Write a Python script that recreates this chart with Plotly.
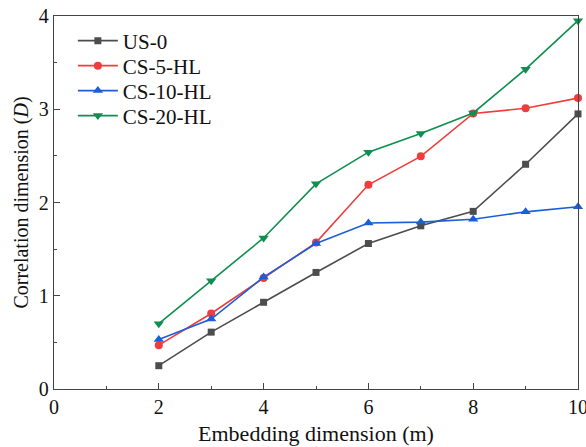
import plotly.graph_objects as go

m = [2, 3, 4, 5, 6, 7, 8, 9, 10]
us0 = [0.25, 0.61, 0.93, 1.25, 1.56, 1.75, 1.905, 2.41, 2.95]
cs5 = [0.47, 0.81, 1.19, 1.57, 2.19, 2.495, 2.955, 3.01, 3.12]
cs10 = [0.53, 0.75, 1.20, 1.56, 1.78, 1.79, 1.82, 1.90, 1.955]
cs20 = [0.70, 1.16, 1.62, 2.20, 2.54, 2.74, 2.96, 3.43, 3.95]

names = ["US-0", "CS-5-HL", "CS-10-HL", "CS-20-HL"]
colors = ["#4d4d4d", "#f03c3c", "#1a5fd6", "#0e8f4f"]
symbols = ["square", "circle", "triangle-up", "triangle-down"]
sizes = [7, 8, 9, 9]
series = [us0, cs5, cs10, cs20]
legend_ids = ["legend", "legend2", "legend3", "legend4"]
legend_y = [0.933, 0.866, 0.799, 0.732]

FONT = "Liberation Serif, Times New Roman, serif"

fig = go.Figure()
for name, ys, c, s, sz, lg in zip(names, series, colors, symbols, sizes, legend_ids):
    fig.add_trace(go.Scatter(
        x=m, y=ys, name=name, mode="lines+markers",
        line=dict(color=c, width=1.6),
        marker=dict(symbol=s, size=sz, color=c),
        cliponaxis=False, legend=lg,
    ))

axis_common = dict(
    showgrid=False, zeroline=False, showline=True, mirror=True,
    linecolor="#444444", linewidth=1.3,
    ticks="inside", ticklen=6, tickwidth=1.2, tickcolor="#444444",
    tickfont=dict(family=FONT, size=20, color="#111111"),
    ticklabeloverflow="allow", automargin=False,
)

fig.update_xaxes(
    range=[0, 10], dtick=2, tick0=0,
    minor=dict(ticks="inside", ticklen=3, tickwidth=1.2, tickcolor="#444444", dtick=1),
    title=dict(text="Embedding dimension (m)", font=dict(family=FONT, size=22, color="#111111"), standoff=8),
    **axis_common,
)
fig.update_yaxes(
    range=[0, 4], dtick=1, tick0=0,
    minor=dict(ticks="inside", ticklen=3, tickwidth=1.2, tickcolor="#444444", dtick=0.5),
    title=dict(text="Correlation dimension (<i>D</i>)", font=dict(family=FONT, size=20, color="#111111"), standoff=4),
    **axis_common,
)

legend_layout = {}
for lg, ly in zip(legend_ids, legend_y):
    legend_layout[lg] = dict(
        x=0.036, y=ly, xanchor="left", yanchor="middle",
        bgcolor="rgba(0,0,0,0)", font=dict(family=FONT, size=21, color="#111111"),
        itemwidth=40, borderwidth=0,
    )

fig.update_layout(
    width=586, height=447,
    margin=dict(l=54, r=8, t=16, b=58, autoexpand=False),
    plot_bgcolor="white", paper_bgcolor="white",
    font=dict(family=FONT, size=20, color="#111111"),
    showlegend=True,
    **legend_layout,
)

fig.write_html("out.html", config={"displayModeBar": False},
               post_script="document.body.style.margin='0';")
